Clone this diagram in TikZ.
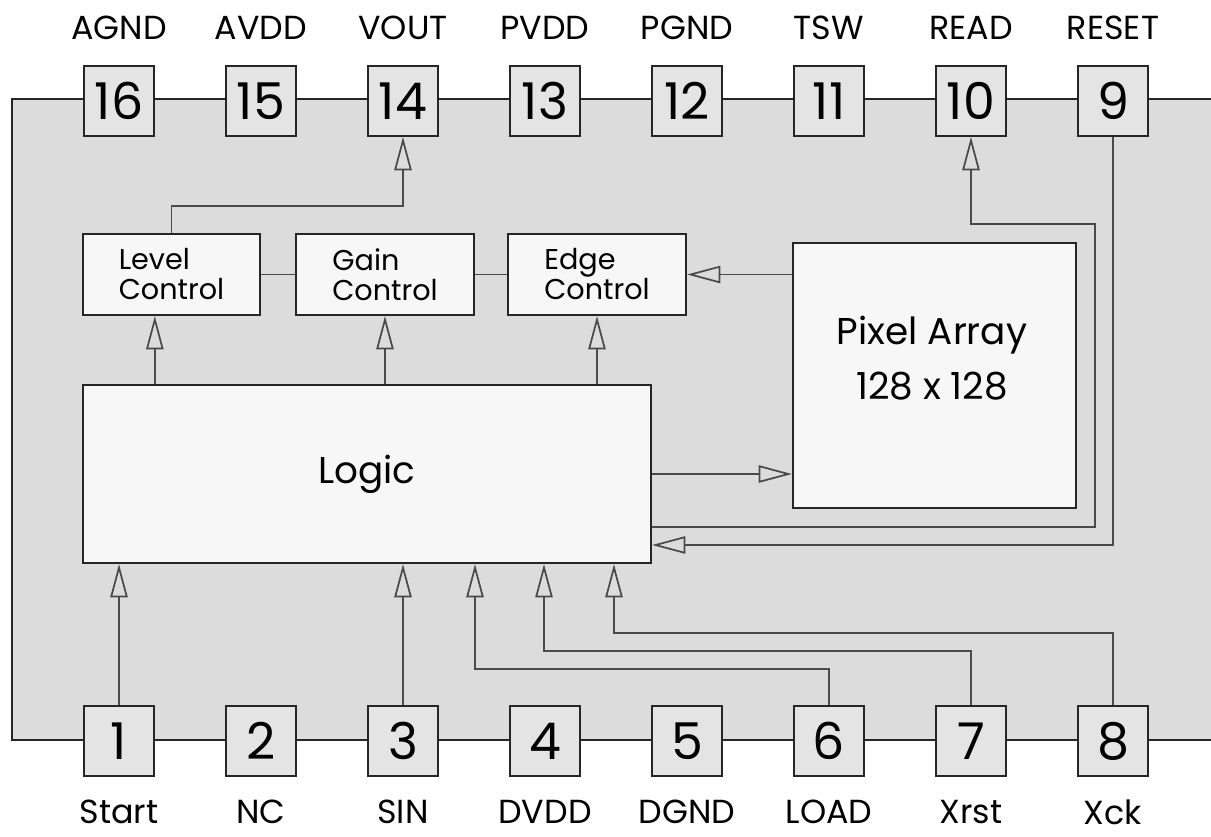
\documentclass[tikz,border=0pt]{standalone}
\usepackage{fontspec}
\setmainfont{Poppins}
\usetikzlibrary{arrows.meta}
\definecolor{bodyfill}{HTML}{DCDCDC}
\definecolor{pinfill}{HTML}{E4E4E4}
\definecolor{boxfill}{HTML}{F7F7F7}
\definecolor{edge}{HTML}{262626}
\definecolor{wire}{HTML}{4A4A4A}
\tikzset{
  pinbox/.style={draw=edge, line width=1.5pt, fill=pinfill, minimum width=52.5pt, minimum height=52.5pt, inner sep=0pt, font=\fontsize{38}{40}\selectfont},
  pinlabel/.style={inner sep=0pt, font=\fontsize{25}{27}\selectfont},
  block/.style={draw=edge, line width=1.7pt, fill=boxfill, inner sep=0pt},
  blocktext/.style={align=left, font=\fontsize{21.5}{22.5}\selectfont, inner sep=0pt},
  wireline/.style={draw=wire, line width=1.3pt},
  arr/.style={wireline, -{Triangle[open, length=25pt, width=13pt, line width=1.3pt]}},
}
\begin{document}
\begin{tikzpicture}[x=0.75pt, y=-0.75pt]
\useasboundingbox (0,0) rectangle (1211,836);
% chip body
\fill[bodyfill] (12,99) rectangle (1211,740);
\draw[edge, line width=1.5pt] (1211,99) -- (12,99) -- (12,740) -- (1211,740);

% top pins
\foreach \n/\x/\t in {16/119/AGND, 15/261/AVDD, 14/403/VOUT, 13/545/PVDD, 12/687/PGND, 11/829/TSW, 10/971/READ, 9/1113/RESET}{
  \node[pinbox] (p\n) at (\x,101) {\n};
  \node[pinlabel] (l\n) at (\x,28) {\t};
}
% bottom pins
\foreach \n/\x/\t in {1/119/Start, 2/261/NC, 3/403/SIN, 4/545/DVDD, 5/687/DGND, 6/829/LOAD, 7/971/Xrst, 8/1113/Xck}{
  \node[pinbox] (p\n) at (\x,741) {\n};
  \node[pinlabel] (l\n) at (\x,812) {\t};
}

% blocks
\node[block, minimum width=132.75pt, minimum height=60.75pt] (level) at (171.5,274.5) {};
\node[blocktext] (tlevel) at (level.center) {Level\\Control};
\node[block, minimum width=133.5pt, minimum height=60.75pt] (gain) at (385,274.5) {};
\node[blocktext] (tgain) at (gain.center) {Gain\\Control};
\node[block, minimum width=133.5pt, minimum height=60.75pt] (edgec) at (597,274.5) {};
\node[blocktext] (tedge) at (edgec.center) {Edge\\Control};
\node[block, minimum width=212.25pt, minimum height=198.75pt] (pix) at (934.5,375.5) {};
\node[align=center, font=\fontsize{28}{41}\selectfont, inner sep=0pt] (tpix) at (932,358) {Pixel Array\\128 x 128};
\node[block, minimum width=426pt, minimum height=133.5pt] (logic) at (367,474) {};
\node[font=\fontsize{28}{30}\selectfont, inner sep=0pt] (tlogic) at (logic.center) {Logic};

% block links
\draw[wireline] (level.east) -- (gain.west);
\draw[wireline] (gain.east) -- (edgec.west);
\draw[arr] (pix.west |- edgec.east) -- (edgec.east);
\draw[arr] (logic.east) -- (logic.east -| pix.west);

% level control to VOUT
\draw[arr] (level.north) -- ++(0,-27) -| (p14.south);

% logic to control blocks
\coordinate (la) at ([xshift=-12.5pt]level.south);
\draw[arr] (logic.north -| la) -- (la);
\draw[arr] (logic.north -| gain.south) -- (gain.south);
\draw[arr] (logic.north -| edgec.south) -- (edgec.south);

% READ
\coordinate (r0) at (1095,527);
\coordinate (r1) at (1095,224);
\draw[arr] (logic.east |- r0) -- (r0) -- (r1) -| (p10.south);
% RESET
\coordinate (s0) at (1113,545);
\draw[arr] (p9.south) -- (s0) -- (logic.east |- s0);

% bottom pins to logic
\draw[arr] (p1.north) -- (p1.north |- logic.south);
\draw[arr] (p3.north) -- (p3.north |- logic.south);
\coordinate (t6) at (475,669);
\draw[arr] (p6.north) |- (t6) -- (t6 |- logic.south);
\coordinate (t7) at (544,651);
\draw[arr] (p7.north) |- (t7) -- (t7 |- logic.south);
\coordinate (t8) at (614,633);
\draw[arr] (p8.north) |- (t8) -- (t8 |- logic.south);
\end{tikzpicture}
\end{document}
